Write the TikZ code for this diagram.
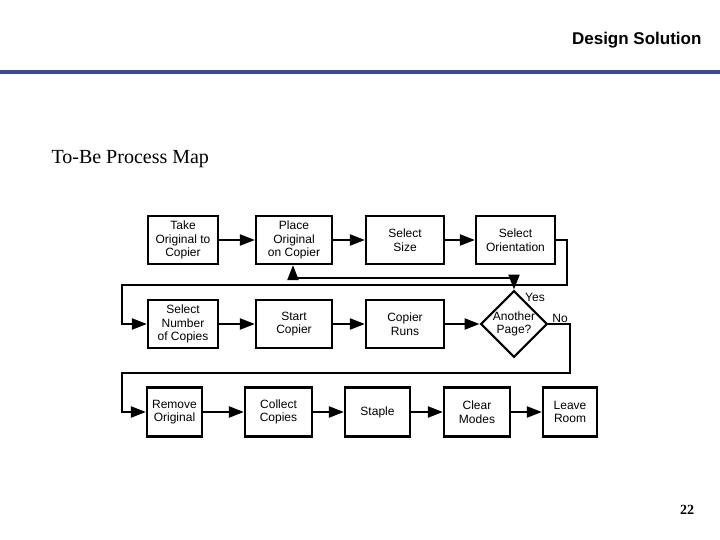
\documentclass[tikz,border=0pt]{standalone}
\usepackage{fontspec}
\setmainfont{Liberation Serif}
\setsansfont{Liberation Sans}
\usetikzlibrary{shapes.geometric,arrows.meta}
\begin{document}
\begin{tikzpicture}[x=1pt,y=-1pt,
  box/.style={draw,line width=2.2pt,font=\sffamily\fontsize{12}{13.5}\selectfont,align=center,inner sep=0pt},
  conn/.style={line width=2.2pt},
  arr/.style={conn,-{Triangle[length=15pt,width=11pt]}}]
\useasboundingbox (0,0) rectangle (720,540);
\node[anchor=east,font=\sffamily\bfseries\fontsize{17}{20}\selectfont] (title) at (705,40) {Design Solution};
\fill[color={rgb,255:red,60;green,70;blue,170}] (0,70) rectangle (720,74);
\node[anchor=west,font=\fontsize{20}{22}\selectfont] (sub) at (48,159) {To-Be Process Map};
\node[font=\bfseries\fontsize{14}{16}\selectfont] (pg) at (687,510) {22};
% row1
\node[box,minimum width=70pt,minimum height=48pt] (take) at (183,240) {Take\\Original to\\Copier};
\node[box,minimum width=76pt,minimum height=48pt] (place) at (294,240) {Place\\Original\\on Copier};
\node[box,minimum width=78pt,minimum height=48pt] (size) at (405,240) {Select\\Size};
\node[box,minimum width=79pt,minimum height=48pt] (orient) at (515.5,240) {Select\\Orientation};
% row2
\node[box,minimum width=70pt,minimum height=48pt] (num) at (183,324) {Select\\Number\\of Copies};
\node[box,minimum width=76pt,minimum height=48pt] (start) at (294,324) {Start\\Copier};
\node[box,minimum width=78pt,minimum height=48pt] (runs) at (405,324) {Copier\\Runs};
\node[box,diamond,minimum width=64pt,minimum height=64pt] (dia) at (514,324) {Another\\Page?};
% row3
\node[box,minimum width=55pt,minimum height=49pt] (remove) at (174.5,412) {Remove\\Original};
\node[box,minimum width=67pt,minimum height=49pt] (collect) at (278.5,412) {Collect\\Copies};
\node[box,minimum width=65pt,minimum height=49pt] (staple) at (377.5,412) {Staple};
\node[box,minimum width=66pt,minimum height=49pt] (clear) at (477,412) {Clear\\Modes};
\node[box,minimum width=54pt,minimum height=49pt] (leave) at (570,412) {Leave\\Room};
\node[font=\sffamily\fontsize{12}{13}\selectfont] (yes) at (535,297) {Yes};
\node[font=\sffamily\fontsize{12}{13}\selectfont] (no) at (560,318) {No};
\draw[arr] (take) -- (place);
\draw[arr] (place) -- (size);
\draw[arr] (size) -- (orient);
\draw[arr] (orient.east) -- (567,240) -- (567,285) -- (122,285) -- (122,324) -- (num.west);
\draw[arr] (num) -- (start);
\draw[arr] (start) -- (runs);
\draw[arr] (runs) -- (dia.west);
\coordinate (yc) at (293,278);
\draw[arr] (yc) -- (place.south -| yc);
\draw[arr] (yc) -- (514,278) -- (dia.north);
\draw[arr] (dia.east) -- (570,324) -- (570,373) -- (122,373) -- (122,412) -- (remove.west);
\draw[arr] (remove) -- (collect);
\draw[arr] (collect) -- (staple);
\draw[arr] (staple) -- (clear);
\draw[arr] (clear) -- (leave);
\end{tikzpicture}
\end{document}
